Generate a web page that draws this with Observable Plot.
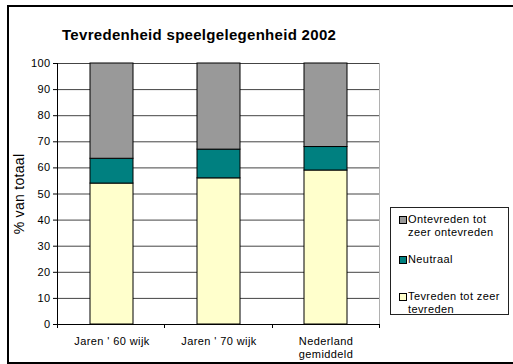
<!DOCTYPE html>
<html><head><meta charset="utf-8">
<script src="https://cdn.jsdelivr.net/npm/d3@7"></script>
<script src="https://cdn.jsdelivr.net/npm/@observablehq/plot@0.6"></script>
<style>
html,body{margin:0;padding:0;background:#fff;overflow:hidden;}
#wrap{position:relative;width:513px;height:364px;font-family:"Liberation Sans",Arial,sans-serif;}
#frame{position:absolute;left:7px;top:5px;width:600px;height:359px;border:2px solid #000;box-sizing:border-box;}
#title{position:absolute;left:62px;top:26px;font-size:15px;line-height:17px;font-weight:bold;letter-spacing:0.3px;white-space:nowrap;}
#ylab{position:absolute;left:19px;top:194px;font-size:14px;letter-spacing:0.3px;white-space:nowrap;transform:translate(-50%,-50%) rotate(-90deg);}
#legend{position:absolute;left:390px;top:207px;width:119px;height:108px;border:1px solid #222;box-sizing:border-box;font-size:11px;letter-spacing:0.4px;}
.item{position:absolute;left:17px;line-height:12.5px;}
.sw{position:absolute;left:-9px;top:3px;width:6px;height:6px;border:1px solid #000;}
svg{position:absolute;left:0;top:0;}
</style></head>
<body><div id="wrap"><div id="frame"></div><div id="chart"></div>
<div id="title">Tevredenheid speelgelegenheid 2002</div>
<div id="ylab">% van totaal</div>
<div id="legend"></div></div>
<script>
const categories = ["Jaren ' 60 wijk", "Jaren ' 70 wijk", "Nederland\ngemiddeld"];
const seriesNames = ["Tevreden tot zeer tevreden", "Neutraal", "Ontevreden tot zeer ontevreden"];
const seriesColors = ["#FFFFCC", "#008080", "#999999"];
const tevreden = [54, 56, 59];
const neutraal = [9.5, 11, 9];
const ontevreden = [36.5, 33, 32];
const yTicks = [0,10,20,30,40,50,60,70,80,90,100];

const seriesValues = [tevreden, neutraal, ontevreden];
const data = [];
seriesNames.forEach((s, si) => categories.forEach((c, ci) => data.push({cat: c, series: s, value: seriesValues[si][ci]})));

const frameMarks = (index, scales, values, dim) => {
  const g = d3.create("svg:g");
  const y = scales.y;
  const left = dim.marginLeft, right = dim.width - dim.marginRight;
  const top = y(100), bottom = y(0);
  const n = categories.length;
  const step = (right - left) / n;
  g.append("line").attr("x1", right + 0.5).attr("x2", right + 0.5).attr("y1", top).attr("y2", bottom).attr("stroke", "#b0b0b0");
  g.append("line").attr("x1", left + 0.5).attr("x2", left + 0.5).attr("y1", top).attr("y2", bottom).attr("stroke", "#000");
  for (let i = 0; i <= n; i++) {
    const xx = Math.round(left + i * step) + 0.5;
    g.append("line").attr("x1", xx).attr("x2", xx).attr("y1", bottom).attr("y2", bottom + 4).attr("stroke", "#000");
  }
  return g.node();
};

const chart = Plot.plot({
  width: 513, height: 364,
  marginLeft: 57, marginRight: 134, marginTop: 63, marginBottom: 40,
  style: {fontFamily: '"Liberation Sans", Arial, sans-serif', fontSize: "11px", background: "transparent", letterSpacing: "0.4px"},
  x: {domain: categories, paddingInner: 0.6, paddingOuter: 0.3, label: null},
  y: {domain: [0, 100], label: null},
  color: {domain: seriesNames, range: seriesColors},
  marks: [
    Plot.gridY(yTicks, {stroke: "#444", strokeOpacity: 1}),
    Plot.barY(data, {x: "cat", y: "value", fill: "series", stroke: "#000", strokeWidth: 1}),
    Plot.ruleY([0], {stroke: "#000"}),
    Plot.axisY(yTicks, {tickSize: 4, tickPadding: 3, label: null, fill: "#000", stroke: "#000"}),
    Plot.axisX({tickSize: 0, tickPadding: 12, label: null, lineHeight: 1.15, fill: "#000"}),
    frameMarks
  ]
});
document.getElementById("chart").appendChild(chart);

const legend = document.getElementById("legend");
const order = [2, 1, 0];
const tops = [5, 45, 82];
const labels = [["Tevreden tot zeer", "tevreden"], ["Neutraal"], ["Ontevreden tot", "zeer ontevreden"]];
order.forEach((si, k) => {
  const it = document.createElement("div");
  it.className = "item";
  it.style.top = tops[k] + "px";
  it.innerHTML = labels[si].join("<br>");
  const sw = document.createElement("div");
  sw.className = "sw";
  sw.style.background = seriesColors[si];
  it.appendChild(sw);
  legend.appendChild(it);
});
</script></body></html>
